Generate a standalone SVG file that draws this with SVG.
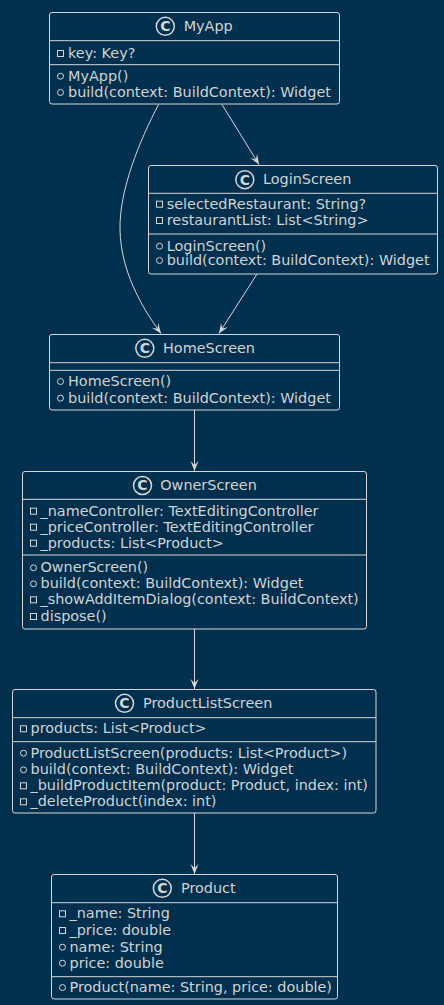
<svg xmlns="http://www.w3.org/2000/svg" width="444" height="1005" viewBox="0 0 444 1005">
<defs>
<style>
.bg{fill:#01304F}
.box{fill:#01304F;stroke:#d6d6d6;stroke-width:1}
.div{stroke:#d6d6d6;stroke-width:1}
.t{font-family:"DejaVu Sans",sans-serif;font-size:14.4px;fill:#d2d2d2}
.ci{fill:none;stroke:#d6d6d6;stroke-width:1.5}
.cl{font-family:"DejaVu Sans",sans-serif;font-size:14px;font-weight:bold;fill:#d6d6d6;text-anchor:middle}
.pr{fill:none;stroke:#d6d6d6;stroke-width:1}
.edge{fill:none;stroke:#d6d6d6;stroke-width:1}
</style>
<marker id="ah" viewBox="0 0 10 10" refX="10" refY="5" markerWidth="10" markerHeight="10" markerUnits="userSpaceOnUse" orient="auto">
<path d="M10,5 L0,1 L4,5 L0,9 Z" fill="#d6d6d6"/>
</marker>
</defs>
<rect class="bg" x="0" y="0" width="444" height="1005"/>

<g id="connectors">
<path class="edge" d="M222,104.5 L259,164.5" marker-end="url(#ah)"/>
<path class="edge" d="M158.5,104.5 C140,140 119,190 120,230 C121,270 140,305 161,333.5" marker-end="url(#ah)"/>
<path class="edge" d="M257,274 L219,333.5" marker-end="url(#ah)"/>
<path class="edge" d="M194.5,410 L194.5,471" marker-end="url(#ah)"/>
<path class="edge" d="M194.5,629 L194.5,689" marker-end="url(#ah)"/>
<path class="edge" d="M194.5,813 L194.5,874" marker-end="url(#ah)"/>
</g>

<g id="MyApp">
<rect class="box" x="49.5" y="12.5" width="290" height="91.5" rx="2.5"/>
<circle class="ci" cx="165.3" cy="26.3" r="9"/>
<text class="cl" x="165.3" y="31.2">C</text>
<text class="t" x="183.7" y="31">MyApp</text>
<line class="div" x1="49.5" y1="40.7" x2="339.5" y2="40.7"/>
<rect class="pr" x="57.5" y="50.5" width="6" height="6"/>
<text class="t" x="68" y="58">key: Key?</text>
<line class="div" x1="49.5" y1="64.7" x2="339.5" y2="64.7"/>
<circle class="pr" cx="60.5" cy="76.2" r="3"/>
<text class="t" x="68" y="80.7">MyApp()</text>
<circle class="pr" cx="60.5" cy="92.5" r="3"/>
<text class="t" x="68" y="97">build(context: BuildContext): Widget</text>
</g>

<g id="LoginScreen">
<rect class="box" x="148.5" y="165.5" width="289" height="108.5" rx="2.5"/>
<circle class="ci" cx="244.8" cy="179.7" r="9"/>
<text class="cl" x="244.8" y="184.6">C</text>
<text class="t" x="263" y="184.4">LoginScreen</text>
<line class="div" x1="148.5" y1="193.3" x2="437.5" y2="193.3"/>
<rect class="pr" x="156.5" y="201.2" width="6" height="6"/>
<text class="t" x="166.7" y="208.7">selectedRestaurant: String?</text>
<rect class="pr" x="156.5" y="217.5" width="6" height="6"/>
<text class="t" x="166.7" y="225">restaurantList: List&lt;String&gt;</text>
<line class="div" x1="148.5" y1="234" x2="437.5" y2="234"/>
<circle class="pr" cx="159.5" cy="246.2" r="3"/>
<text class="t" x="166.7" y="250.7">LoginScreen()</text>
<circle class="pr" cx="159.5" cy="260.5" r="3"/>
<text class="t" x="166.7" y="265">build(context: BuildContext): Widget</text>
</g>

<g id="HomeScreen">
<rect class="box" x="49.5" y="334.5" width="290" height="75.5" rx="2.5"/>
<circle class="ci" cx="144.8" cy="348.3" r="9"/>
<text class="cl" x="144.8" y="353.2">C</text>
<text class="t" x="163" y="353">HomeScreen</text>
<line class="div" x1="49.5" y1="362.7" x2="339.5" y2="362.7"/>
<line class="div" x1="49.5" y1="370.3" x2="339.5" y2="370.3"/>
<circle class="pr" cx="60.5" cy="381.5" r="3"/>
<text class="t" x="68" y="386">HomeScreen()</text>
<circle class="pr" cx="60.5" cy="398.2" r="3"/>
<text class="t" x="68" y="402.7">build(context: BuildContext): Widget</text>
</g>

<g id="OwnerScreen">
<rect class="box" x="22.5" y="471.5" width="344" height="157.5" rx="2.5"/>
<circle class="ci" cx="142.5" cy="485.5" r="9"/>
<text class="cl" x="142.5" y="490.4">C</text>
<text class="t" x="160.3" y="490.2">OwnerScreen</text>
<line class="div" x1="22.5" y1="499.3" x2="366.5" y2="499.3"/>
<rect class="pr" x="30.5" y="508.2" width="6" height="6"/>
<text class="t" x="40.5" y="515.7">_nameController: TextEditingController</text>
<rect class="pr" x="30.5" y="524.2" width="6" height="6"/>
<text class="t" x="40.5" y="531.7">_priceController: TextEditingController</text>
<rect class="pr" x="30.5" y="540.2" width="6" height="6"/>
<text class="t" x="40.5" y="547.7">_products: List&lt;Product&gt;</text>
<line class="div" x1="22.5" y1="555" x2="366.5" y2="555"/>
<circle class="pr" cx="33.5" cy="567.8" r="3"/>
<text class="t" x="40.5" y="572.3">OwnerScreen()</text>
<circle class="pr" cx="33.5" cy="583.8" r="3"/>
<text class="t" x="40.5" y="588.3">build(context: BuildContext): Widget</text>
<rect class="pr" x="30.5" y="596.8" width="6" height="6"/>
<text class="t" x="40.5" y="604.3">_showAddItemDialog(context: BuildContext)</text>
<rect class="pr" x="30.5" y="613.5" width="6" height="6"/>
<text class="t" x="40.5" y="621">dispose()</text>
</g>

<g id="ProductListScreen">
<rect class="box" x="12.5" y="689.5" width="363.5" height="123.5" rx="2.5"/>
<circle class="ci" cx="124.5" cy="703.3" r="9"/>
<text class="cl" x="124.5" y="708.2">C</text>
<text class="t" x="143" y="708">ProductListScreen</text>
<line class="div" x1="12.5" y1="717.7" x2="376" y2="717.7"/>
<rect class="pr" x="20.5" y="725.8" width="6" height="6"/>
<text class="t" x="30.5" y="733.3">products: List&lt;Product&gt;</text>
<line class="div" x1="12.5" y1="741.7" x2="376" y2="741.7"/>
<circle class="pr" cx="23.5" cy="753.2" r="3"/>
<text class="t" x="30.5" y="757.7">ProductListScreen(products: List&lt;Product&gt;)</text>
<circle class="pr" cx="23.5" cy="769.8" r="3"/>
<text class="t" x="30.5" y="774.3">build(context: BuildContext): Widget</text>
<rect class="pr" x="20.5" y="782.8" width="6" height="6"/>
<text class="t" x="30.5" y="790.3">_buildProductItem(product: Product, index: int)</text>
<rect class="pr" x="20.5" y="798.8" width="6" height="6"/>
<text class="t" x="30.5" y="806.3">_deleteProduct(index: int)</text>
</g>

<g id="Product">
<rect class="box" x="51.5" y="874.5" width="286" height="124.5" rx="2.5"/>
<circle class="ci" cx="162.3" cy="888.3" r="9"/>
<text class="cl" x="162.3" y="893.2">C</text>
<text class="t" x="181" y="893">Product</text>
<line class="div" x1="51.5" y1="902.7" x2="337.5" y2="902.7"/>
<rect class="pr" x="59.5" y="910.8" width="6" height="6"/>
<text class="t" x="69.5" y="918.3">_name: String</text>
<rect class="pr" x="59.5" y="927.5" width="6" height="6"/>
<text class="t" x="69.5" y="935">_price: double</text>
<circle class="pr" cx="62.5" cy="947.2" r="3"/>
<text class="t" x="69.5" y="951.7">name: String</text>
<circle class="pr" cx="62.5" cy="963.2" r="3"/>
<text class="t" x="69.5" y="967.7">price: double</text>
<line class="div" x1="51.5" y1="976.7" x2="337.5" y2="976.7"/>
<circle class="pr" cx="62.5" cy="987.5" r="3"/>
<text class="t" x="69.5" y="992">Product(name: String, price: double)</text>
</g>
</svg>
